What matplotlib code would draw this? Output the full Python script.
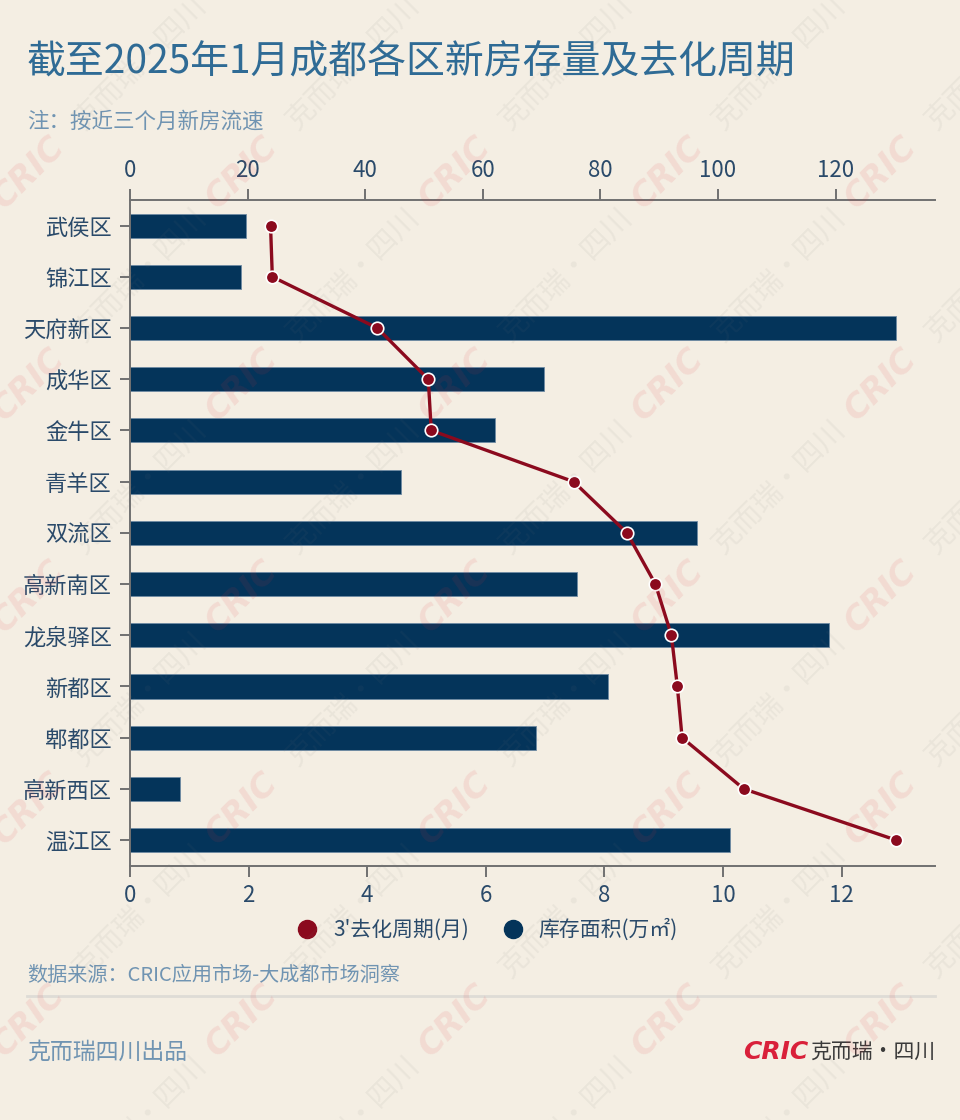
import numpy as np
import matplotlib
matplotlib.use("Agg")
import matplotlib.pyplot as plt
from matplotlib.lines import Line2D

plt.rcParams['font.family'] = ['Noto Sans CJK SC', 'DejaVu Sans']

# 数据
districts = ['武侯区', '锦江区', '天府新区', '成华区', '金牛区', '青羊区', '双流区',
             '高新南区', '龙泉驿区', '新都区', '郫都区', '高新西区', '温江区']
stock = [19.7, 18.9, 130.3, 70.4, 62.1, 46.1, 96.4, 76.1, 118.9, 81.3, 69.0, 8.5, 102.0]
cycle = [2.37, 2.40, 4.17, 5.03, 5.08, 7.48, 8.38, 8.86, 9.13, 9.23, 9.31, 10.35, 12.92]
stock_ticks = [0, 20, 40, 60, 80, 100, 120]
cycle_ticks = [0, 2, 4, 6, 8, 10, 12]

BG = '#f4eee3'
BAR = '#04345a'
RED = '#8b0a1e'
TXT = '#2a4a6a'
SPINE = '#707070'
W, H = 960, 1120

fig = plt.figure(figsize=(W / 100, H / 100), dpi=100, facecolor=BG)

def px(x, y):
    return x / W, 1 - y / H

ax = fig.add_axes([130 / W, 1 - 865.7 / H, 805 / W, 665.7 / H])
ax.set_facecolor(BG)
ax2 = ax.twiny()

y = np.arange(len(districts))
ax.barh(y, stock, height=0.47, color=BAR, edgecolor='#6f8ba3', linewidth=0.6, zorder=2)
ax.set_xlim(0, 805 / 5.88)
ax.set_ylim(12.5, -0.5)
ax.set_yticks(y)
ax.set_yticklabels(districts)
ax.set_xticks(stock_ticks)

ax2.plot(cycle, y, color=RED, lw=2.4, marker='o', ms=9, mfc=RED, mec='white', mew=1.2, zorder=5)
ax2.set_xlim(0, 805 / 59.3)
ax2.set_xticks(cycle_ticks)

# 坐标轴位置：库存在上，去化周期在下
ax.xaxis.set_ticks_position('top')
ax.xaxis.set_label_position('top')
ax2.xaxis.set_ticks_position('bottom')
ax2.xaxis.set_label_position('bottom')

for a in (ax, ax2):
    for s in a.spines.values():
        s.set_visible(False)
    a.tick_params(axis='both', colors=SPINE, labelcolor=TXT, labelsize=16,
                  length=8, width=1.4, pad=5)
for a, k in ((ax, 'top'), (ax, 'left'), (ax2, 'bottom')):
    a.spines[k].set_visible(True)
    a.spines[k].set_color(SPINE)
    a.spines[k].set_linewidth(1.4)
ax.tick_params(axis='y', length=7, pad=6)

# 标题
fig.text(*px(27, 62), '截至2025年1月成都各区新房存量及去化周期', fontsize=28,
         color='#2f6b95', va='center', ha='left', fontweight='light')
fig.text(*px(27, 122), '注：按近三个月新房流速', fontsize=15.5, color='#7094b2',
         va='center', ha='left', fontweight='light')

# 图例
handles = [Line2D([], [], ls='none', marker='o', ms=13, color=RED),
           Line2D([], [], ls='none', marker='o', ms=13, color=BAR)]
fig.legend(handles, ["3'去化周期(月)", '库存面积(万㎡)'], loc='center',
           bbox_to_anchor=px(482, 930), ncol=2, frameon=False, fontsize=15,
           labelcolor=TXT, handletextpad=0.25, columnspacing=1.1)

# 底部
fig.text(*px(27, 975), '数据来源：CRIC应用市场-大成都市场洞察', fontsize=14.5,
         color='#7094b2', va='center', ha='left', fontweight='light')
fig.add_artist(Line2D([27 / W, 935 / W], [1 - 996 / H, 1 - 996 / H], color='#dedcd6', lw=2))
fig.text(*px(27, 1052), '克而瑞四川出品', fontsize=16.5, color='#7094b2', va='center', ha='left',
         fontweight='light')
fig.text(*px(935, 1052), '克而瑞·四川', fontsize=15, color='#3a3a3a', va='center', ha='right')
fig.text(*px(808, 1052), 'CRIC', fontsize=18, color='#d9203a', va='center', ha='right',
         fontweight='bold', style='italic', family='DejaVu Sans')

# 水印
c, s = np.cos(np.pi / 4), np.sin(np.pi / 4)
for i in range(-1, 5):
    for j in range(0, 6):
        x0, y0 = 5 + 213 * i, 210 + 212 * j
        fig.text(*px(x0, y0), 'CRIC', fontsize=24, color='#e0303a', alpha=0.1,
                 rotation=45, rotation_mode='anchor', ha='left', va='baseline',
                 fontweight='bold', style='italic', family='DejaVu Sans', zorder=10)
        fig.text(*px(x0 + 112 * c, y0 - 112 * s), '克而瑞·四川', fontsize=21,
                 color='#777777', alpha=0.08, rotation=45, rotation_mode='anchor',
                 ha='left', va='baseline', zorder=10)

fig.savefig('out.png', dpi=100, facecolor=BG)
